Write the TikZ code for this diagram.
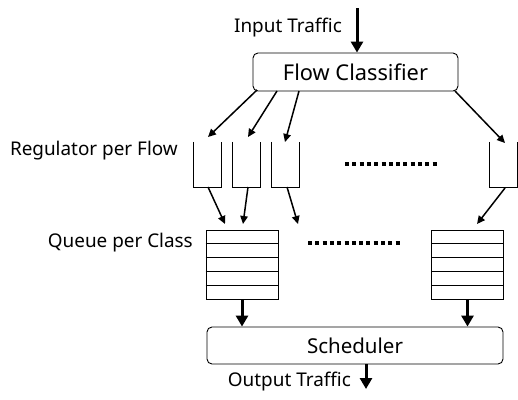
\documentclass[tikz,border=0pt]{standalone}
\usepackage{fontspec}
\setmainfont{Noto Sans}
\usetikzlibrary{arrows.meta,calc}
\begin{document}
\begin{tikzpicture}[x=1pt,y=-1pt,
  box/.style={draw,line width=0.9pt,rounded corners=5pt,inner sep=0pt},
  lbl/.style={inner sep=0pt,font=\fontsize{18.9}{21}\selectfont},
  regbox/.style={inner sep=0pt,minimum width=27pt,minimum height=45pt},
  queuebox/.style={draw,line width=0.9pt,inner sep=0pt,minimum width=72pt,minimum height=69pt},
  thin arrow/.style={line width=1.5pt,-{Triangle[length=8pt,width=7.5pt]}},
  thick arrow/.style={line width=3pt,-{Triangle[length=11pt,width=12pt]}},
  dotline/.style={line width=3.5pt,dash pattern=on 4pt off 3.3pt}
]
\useasboundingbox (0,0) rectangle (518,399);

% main boxes
\node[box,minimum width=205pt,minimum height=38pt,font=\fontsize{21.8}{23}\selectfont] (cls) at (355.5,72) {Flow Classifier};
\node[box,minimum width=296pt,minimum height=37pt,font=\fontsize{20.5}{22}\selectfont] (sch) at (355,345.5) {Scheduler};

% labels
\node[lbl,anchor=base east] (intxt) at (342,32) {Input Traffic};
\node[lbl,anchor=base east] (regtxt) at (178,155) {Regulator per Flow};
\node[lbl,anchor=base east] (quetxt) at (193,247) {Queue per Class};
\node[lbl,anchor=base east] (outtxt) at (351,386) {Output Traffic};

% regulators
\node[regbox] (r1) at (207.5,164.5) {};
\node[regbox] (r2) at (246.5,164.5) {};
\node[regbox] (r3) at (285.5,164.5) {};
\node[regbox] (r4) at (503.5,164.5) {};
\foreach \r in {r1,r2,r3,r4}{
  \draw[line width=1.3pt] (\r.north west) -- (\r.south west) -- (\r.south east) -- (\r.north east);
}

% queues
\node[queuebox] (q1) at (242,264.5) {};
\node[queuebox] (q2) at (467.5,264.5) {};
\foreach \q in {q1,q2}{
  \foreach \f in {0.2,0.4,0.6,0.8}{
    \draw[line width=0.9pt] ($(\q.north west)!\f!(\q.south west)$) -- ($(\q.north east)!\f!(\q.south east)$);
  }
}

% dotted lines
\coordinate (d1a) at (345,164);
\coordinate (d1b) at (437,164);
\draw[dotline] (d1a) -- (d1b);
\coordinate (d2a) at (308,243);
\coordinate (d2b) at (401,243);
\draw[dotline] (d2a) -- (d2b);

% input / output
\coordinate (inp) at (357,8);
\draw[thick arrow] (inp) -- (inp |- cls.north);
\coordinate (outp) at (366,389);
\draw[thick arrow] (outp |- sch.south) -- (outp);

% classifier -> regulators
\coordinate (c1) at (257,90);
\coordinate (c2) at (277,91);
\coordinate (c3) at (299,91);
\coordinate (c4) at (455,91);
\coordinate (e1) at (208,137);
\coordinate (e2) at (248,137);
\coordinate (e3) at (285,142);
\coordinate (e4) at (505,143);
\draw[thin arrow] (c1) -- (e1);
\draw[thin arrow] (c2) -- (e2);
\draw[thin arrow] (c3) -- (e3);
\draw[thin arrow] (c4) -- (e4);

% regulators -> queues
\coordinate (s1) at (208,187);
\coordinate (s2) at (248,187);
\coordinate (s3) at (287,187);
\coordinate (s4) at (505,188);
\coordinate (t1) at (225,224);
\coordinate (t2) at (243,224);
\coordinate (t3) at (298,224);
\coordinate (t4) at (477,224);
\draw[thin arrow] (s1) -- (t1);
\draw[thin arrow] (s2) -- (t2);
\draw[thin arrow] (s3) -- (t3);
\draw[thin arrow] (s4) -- (t4);

% queues -> scheduler
\draw[thick arrow] (q1.south) -- (q1.south |- sch.north);
\draw[thick arrow] (q2.south) -- (q2.south |- sch.north);
\end{tikzpicture}
\end{document}
